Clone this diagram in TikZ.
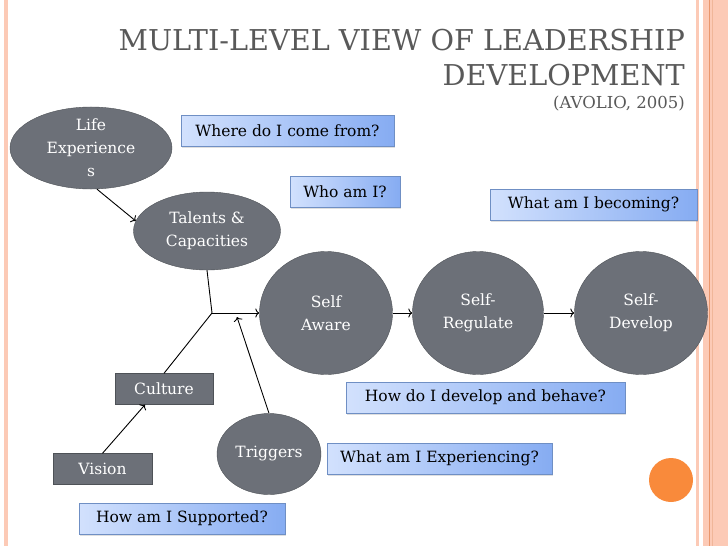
\documentclass[tikz,border=0pt]{standalone}
\usepackage{fontspec}
\setmainfont{DejaVu Serif}
\usetikzlibrary{shapes.geometric,shadows,calc,arrows.meta}
\definecolor{slate}{HTML}{6C7078}
\definecolor{slateline}{HTML}{4E5257}
\definecolor{askleft}{HTML}{D2E1FD}
\definecolor{askright}{HTML}{86ACF2}
\definecolor{askline}{HTML}{6F8FC4}
\definecolor{titlegray}{HTML}{595959}
\definecolor{peach}{HTML}{FCCAB6}
\definecolor{rust}{HTML}{E9976D}
\definecolor{dotorange}{HTML}{F98A3B}
\begin{document}
\begin{tikzpicture}[x=1pt, y=-1pt, >={To[length=4pt, width=9pt]},
        oval/.style={ellipse, draw=slateline, fill=slate, text=white, align=center, inner sep=0pt, font=\fontsize{15.5}{23}\selectfont},
        grayrect/.style={rectangle, draw=slateline, fill=slate, text=white, inner sep=0pt, font=\fontsize{15.5}{23}\selectfont},
        ask/.style={rectangle, draw=askline, left color=askleft, right color=askright, inner sep=0pt, minimum height=31pt, font=\fontsize{15.5}{23}\selectfont, drop shadow={shadow xshift=1.2pt, shadow yshift=-1.5pt, opacity=0.25}},
        link/.style={line width=0.9pt},
    ]
    \useasboundingbox (0,0) rectangle (728,546);

    % ===== Side bands =====
    \fill[peach] (4,0) rectangle (8,546);
    \fill[peach] (696,0) rectangle (698.5,546);
    \fill[peach] (703,0) rectangle (728,546);
    \draw[rust, line width=0.8pt] (709.5,0) -- (709.5,546);
    \draw[rust!70, line width=0.5pt] (712,0) -- (712,546);

    % ===== Title =====
    \node[anchor=base east, text=titlegray, inner sep=0pt, font=\fontsize{28.7}{30}\selectfont] (title) at (685,50) {MULTI-LEVEL VIEW OF LEADERSHIP};
    \node[anchor=base east, text=titlegray, inner sep=0pt, font=\fontsize{28.7}{30}\selectfont] (title2) at (685,85) {DEVELOPMENT};
    \node[anchor=base east, text=titlegray, inner sep=0pt, font=\fontsize{16.5}{18}\selectfont] (cite) at (685,108) {(AVOLIO, 2005)};

    % ===== Sources =====
    \node[oval, minimum width=162pt, minimum height=74pt] (life) at (91,148) {Life\\Experience\\s};
    \node[oval, minimum width=147pt, minimum height=78pt] (talents) at (207,231) {Talents \&\\Capacities};
    \node[grayrect, minimum width=98pt, minimum height=31pt] (culture) at (164,389) {Culture};
    \node[grayrect, minimum width=99pt, minimum height=31pt] (vision) at (102.5,469) {Vision};
    \node[oval, minimum width=104pt, minimum height=81pt] (triggers) at (269,454) {Triggers};

    % ===== Development chain =====
    \node[oval, minimum width=133pt, minimum height=123pt] (aware) at (326,313) {Self\\Aware};
    \node[oval, minimum width=131pt, minimum height=123pt] (regulate) at (478,313) {Self-\\Regulate};
    \node[oval, minimum width=133pt, minimum height=123pt] (develop) at (641,313) {Self-\\Develop};

    % ===== Questions =====
    \node[ask, minimum width=213pt] (qfrom) at (287.5,130.5) {Where do I come from?};
    \node[ask, minimum width=110pt] (qwho) at (345,191.5) {Who am I?};
    \node[ask, minimum width=207pt] (qbecome) at (593.5,204.5) {What am I becoming?};
    \node[ask, minimum width=279pt] (qbehave) at (485.5,397.5) {How do I develop and behave?};
    \node[ask, minimum width=225pt] (qexp) at (439.5,458.5) {What am I Experiencing?};
    \node[ask, minimum width=206pt] (qsupport) at (182,518.5) {How am I Supported?};

    \node[circle, fill=dotorange, minimum size=44pt, inner sep=0pt] (dot) at (671,480) {};

    % ===== Connectors =====
    \coordinate (hub) at (212,313);
    \coordinate (hit) at (237,317);
    \draw[link, ->] ($(life.south)+(6,0)$) -- (talents.172);
    \draw[link] (talents.south) -- (hub);
    \draw[link] (culture.north) -- (hub);
    \draw[link, ->] (hub) -- (aware.west);
    \draw[link, ->] (triggers.north) -- (hit);
    \draw[link, ->] (vision.north) -- ($(culture.south)+(-19,0)$);
    \draw[link, ->] (aware.east) -- (regulate.west);
    \draw[link, ->] (regulate.east) -- (develop.west);

    \end{tikzpicture}
\end{document}
